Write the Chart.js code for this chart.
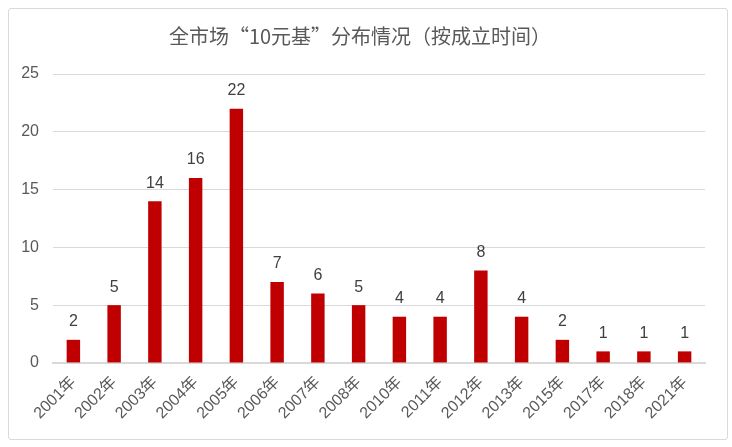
<!DOCTYPE html>
<html>
<head>
<meta charset="utf-8">
<script src="https://cdn.jsdelivr.net/npm/chart.js@4/dist/chart.umd.min.js"></script>
<style>
  html, body { margin: 0; padding: 0; background: #fff; }
  #box {
    position: absolute; left: 8px; top: 8px; width: 718px; height: 430px;
    border: 1px solid #d9d9d9; border-radius: 3px;
  }
</style>
</head>
<body>
<div id="box"><canvas id="c"></canvas></div>
<script>
var years = ["2001年","2002年","2003年","2004年","2005年","2006年","2007年","2008年",
             "2010年","2011年","2012年","2013年","2015年","2017年","2018年","2021年"];
var counts = [2, 5, 14, 16, 22, 7, 6, 5, 4, 4, 8, 4, 2, 1, 1, 1];
var yTicks = [0, 5, 10, 15, 20, 25];

var fontFam = "'Liberation Sans', 'Noto Sans CJK SC', sans-serif";
var titleFam = "'Noto Sans CJK SC', sans-serif";

// numbers above each bar
var barLabels = {
  id: 'barLabels',
  afterDatasetsDraw: function(chart) {
    var ctx = chart.ctx;
    var meta = chart.getDatasetMeta(0);
    ctx.save();
    ctx.fillStyle = '#404040';
    ctx.font = '16px ' + fontFam;
    ctx.textAlign = 'center';
    ctx.textBaseline = 'bottom';
    meta.data.forEach(function(bar, i) {
      ctx.fillText(counts[i], bar.x, bar.y - 10);
    });
    ctx.restore();
  }
};

var cv = document.getElementById('c');
cv.width = 718; cv.height = 430;

new Chart(cv, {
  type: 'bar',
  data: {
    labels: years,
    datasets: [{
      data: counts,
      backgroundColor: '#c00000',
      barPercentage: 0.33,
      categoryPercentage: 1.0
    }]
  },
  options: {
    responsive: false,
    animation: false,
    layout: { autoPadding: false, padding: { left: 6, right: 22, top: 4, bottom: 14 } },
    plugins: {
      legend: { display: false },
      tooltip: { enabled: false },
      title: {
        display: true,
        text: '全市场“10元基”分布情况（按成立时间）',
        color: '#595959',
        font: { family: titleFam, size: 20, weight: 'normal' },
        padding: { top: 11, bottom: 26 }
      }
    },
    scales: {
      x: {
        grid: { display: false },
        border: { color: '#d9d9d9', width: 2 },
        ticks: {
          color: '#595959',
          font: { family: fontFam, size: 16 },
          minRotation: 45, maxRotation: 45,
          padding: 2
        }
      },
      y: {
        min: 0, max: 25,
        afterBuildTicks: function(axis) {
          axis.ticks = yTicks.map(function(v) { return { value: v }; });
        },
        afterFit: function(axis) { axis.width = 38; },
        grid: { color: '#d9d9d9', drawTicks: false, lineWidth: 1 },
        border: { display: false },
        ticks: {
          color: '#595959',
          font: { family: fontFam, size: 16 },
          padding: 14
        }
      }
    }
  },
  plugins: [barLabels]
});
</script>
</body>
</html>
